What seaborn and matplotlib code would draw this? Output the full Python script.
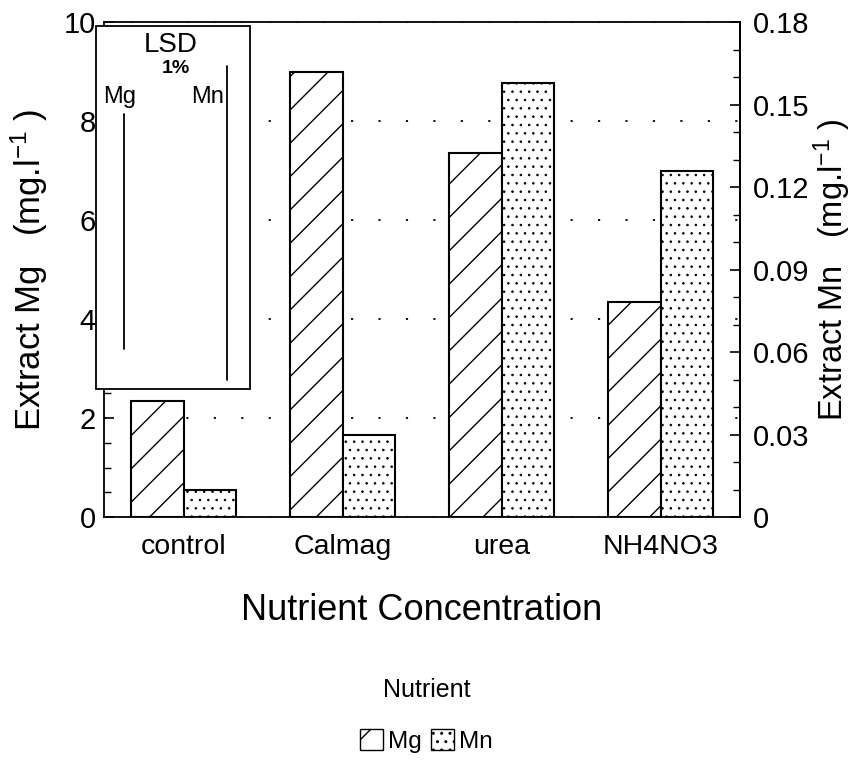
import matplotlib
matplotlib.use("Agg")
import matplotlib.pyplot as plt
import matplotlib.patches as mpatches
import matplotlib.transforms as mtrans
from matplotlib.ticker import MultipleLocator, FuncFormatter
import numpy as np
import pandas as pd
import seaborn as sns

# ---- data ----
categories = ["control", "Calmag", "urea", "NH4NO3"]
mg_values = [2.35, 9.0, 7.35, 4.35]          # Extract Mg (mg/l), left axis
mn_values = [0.010, 0.030, 0.158, 0.126]     # Extract Mn (mg/l), right axis
nutrients = ["Mg", "Mn"]
lsd_mg = 4.75     # LSD 1% bar length for Mg (mg/l)
lsd_mn = 0.114    # LSD 1% bar length for Mn (mg/l)

sns.set_style("ticks")
plt.rcParams["font.family"] = ["Liberation Sans", "DejaVu Sans"]
plt.rcParams["mathtext.default"] = "regular"
plt.rcParams["hatch.linewidth"] = 1.0
for k in ("text.color", "axes.labelcolor", "xtick.color", "ytick.color", "axes.edgecolor"):
    plt.rcParams[k] = "black"

df = pd.DataFrame({
    "Treatment": categories * 2,
    "Nutrient": ["Mg"] * 4 + ["Mn"] * 4,
    "value": mg_values + mn_values,
})
df_mg = df.copy()
df_mg.loc[df_mg["Nutrient"] != "Mg", "value"] = np.nan
df_mn = df.copy()
df_mn.loc[df_mn["Nutrient"] != "Mn", "value"] = np.nan

fig = plt.figure(figsize=(8.53, 7.66), dpi=100)
ax = fig.add_axes([0.122, 0.325, 0.7456, 0.646])
ax2 = ax.twinx()

common = dict(x="Treatment", y="value", hue="Nutrient", hue_order=nutrients,
              order=categories, palette=["white", "white"], saturation=1,
              edgecolor="black", linewidth=1.5, errorbar=None, width=0.66,
              legend=False)
sns.barplot(data=df_mg, ax=ax, **common)
sns.barplot(data=df_mn, ax=ax2, **common)


def set_hlw(p, lw):
    if hasattr(p, "set_hatch_linewidth"):
        p.set_hatch_linewidth(lw)


for p in ax.patches:
    p.set_hatch("/")
for p in ax2.patches:
    p.set_hatch("..")
    set_hlw(p, 0.6)

ax.set_xlim(-0.5, 3.5)
ax.set_ylim(0, 10)
ax2.set_ylim(0, 0.18)

# ticks
ax.yaxis.set_major_locator(MultipleLocator(2))
ax.yaxis.set_minor_locator(MultipleLocator(0.5))
ax2.yaxis.set_major_locator(MultipleLocator(0.03))
ax2.yaxis.set_minor_locator(MultipleLocator(0.01))
ax2.yaxis.set_major_formatter(FuncFormatter(lambda v, p: "0" if abs(v) < 1e-9 else f"{v:.2f}"))
for a, pad in ((ax, 6), (ax2, 9)):
    a.tick_params(axis="y", which="major", direction="in", length=7, width=1.2,
                  labelsize=21, colors="black", pad=pad)
    a.tick_params(axis="y", which="minor", direction="in", length=5, width=1.0)
ax.tick_params(axis="x", length=0, labelsize=20.5, pad=12)

for s in ax.spines.values():
    s.set_linewidth(1.3)
    s.set_color("black")
for k in ("left", "top", "bottom"):
    ax2.spines[k].set_visible(False)
ax2.spines["right"].set_linewidth(1.3)

ax.set_axisbelow(True)
ax.yaxis.grid(True, which="major", linestyle=(0, (1.2, 14)), color="black", linewidth=1.3)

ax.set_xlabel("Nutrient Concentration", fontsize=26, labelpad=24)
ax.set_ylabel(r"Extract Mg   (mg.l$^{-1}$ )", fontsize=25, labelpad=10)
ax2.set_ylabel(r"Extract Mn   (mg.l$^{-1}$ )", fontsize=23.5, labelpad=2, rotation=90)

# LSD inset box
box = mpatches.Rectangle((-0.012, 0.259), 0.242, 0.734, transform=ax2.transAxes,
                         facecolor="white", edgecolor="black", linewidth=1.3,
                         clip_on=False, zorder=10)
ax2.add_patch(box)
ax2.text(0.104, 0.954, "LSD", transform=ax2.transAxes, ha="center", va="center",
         fontsize=20, zorder=11)
ax2.text(0.113, 0.907, "1%", transform=ax2.transAxes, ha="center", va="center",
         fontsize=14, fontweight="bold", zorder=11)
ax2.text(0.025, 0.848, "Mg", transform=ax2.transAxes, ha="center", va="center",
         fontsize=17, zorder=11)
ax2.text(0.163, 0.848, "Mn", transform=ax2.transAxes, ha="center", va="center",
         fontsize=17, zorder=11)
tr_mg = mtrans.blended_transform_factory(ax.transAxes, ax.transData)
tr_mn = mtrans.blended_transform_factory(ax2.transAxes, ax2.transData)
mg_lo = 3.4
mn_lo = 0.05
ax2.plot([0.031, 0.031], [mg_lo, mg_lo + lsd_mg], transform=tr_mg, color="black",
         linewidth=1.3, zorder=11, clip_on=False)
ax2.plot([0.194, 0.194], [mn_lo, mn_lo + lsd_mn], transform=tr_mn, color="black",
         linewidth=1.3, zorder=11, clip_on=False)

# legend
h_mg = mpatches.Patch(facecolor="white", edgecolor="black", hatch="/", linewidth=1.0)
h_mn = mpatches.Patch(facecolor="white", edgecolor="black", hatch="..", linewidth=1.0)
set_hlw(h_mn, 0.6)
leg = fig.legend([h_mg, h_mn], nutrients, title="Nutrient", loc="upper center",
                 bbox_to_anchor=(0.5, 0.143), ncol=2, frameon=False, fontsize=17.5,
                 title_fontsize=18, handlelength=0.95, handleheight=0.95,
                 columnspacing=0.4, handletextpad=0.2, labelspacing=1.1)

fig.savefig("out.png", dpi=100)
